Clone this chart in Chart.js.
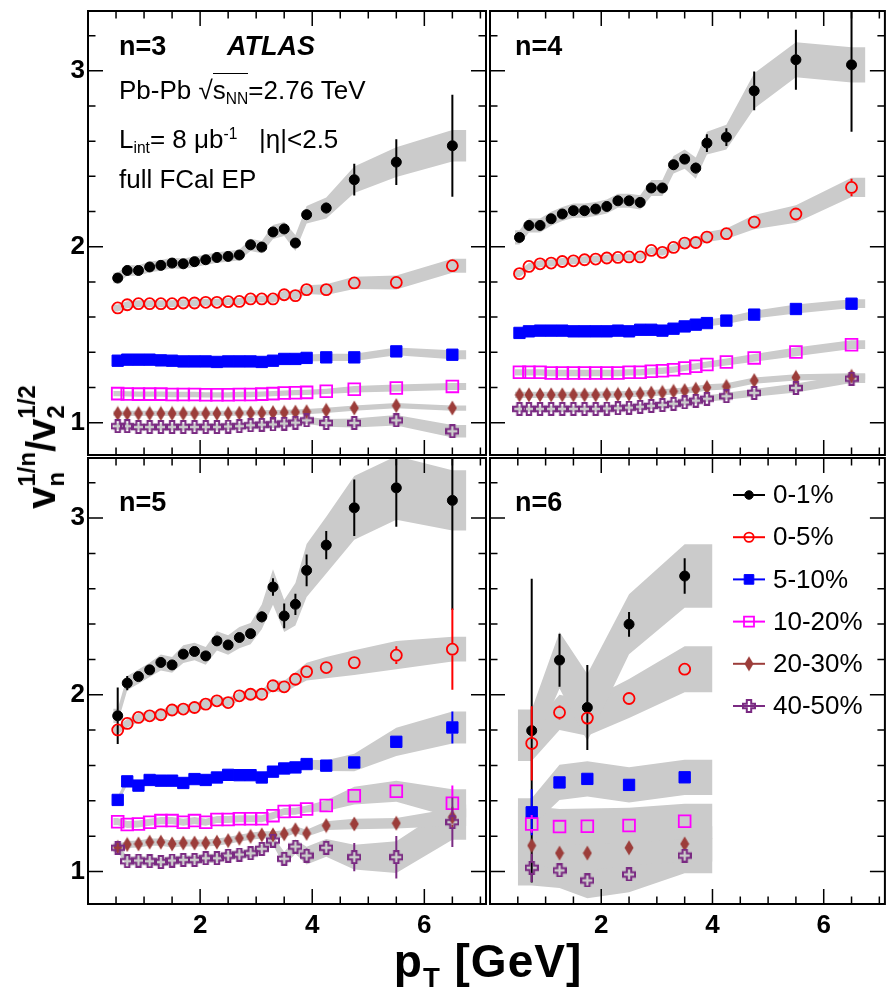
<!DOCTYPE html>
<html>
<head>
<meta charset="utf-8">
<script src="https://cdn.jsdelivr.net/npm/chart.js@4.4.1/dist/chart.umd.min.js"></script>
<style>
  html, body { margin: 0; padding: 0; background: #fff; }
  #wrap { position: relative; width: 895px; height: 994px; overflow: hidden;
          font-family: 'Liberation Sans', Arial, Helvetica, sans-serif; color: #000; }
  #wrap canvas { position: absolute; left: 0; top: 0; }
  .txt { position: absolute; white-space: nowrap; line-height: 1; font-size: 26px; }
  .b { font-weight: bold; font-size: 27px; }
  .txt sub { font-size: 0.6em; vertical-align: -0.3em; line-height: 0; }
  .txt sup { font-size: 0.6em; vertical-align: 0.6em; line-height: 0; }
  .ovl { border-top: 1.5px solid #000; padding-top: 1px; }
  #ytitle { position: absolute; left: 41px; top: 447px; transform: translate(-50%, -50%) rotate(-90deg);
            font-weight: bold; font-size: 40px; line-height: 40px; white-space: nowrap; }
  #ytitle .st { display: inline-flex; flex-direction: column; font-size: 24px; line-height: 29px; vertical-align: 20px; }
  #xtitle { position: absolute; left: 488px; top: 938px; transform: translateX(-50%);
            font-weight: bold; font-size: 46px; letter-spacing: 1px; line-height: 1; white-space: nowrap; }
  #xtitle sub { font-size: 0.6em; vertical-align: -0.35em; line-height: 0; }
</style>
</head>
<body>
<div id="wrap">
  <canvas id="c3" width="895" height="994"></canvas>
  <canvas id="c4" width="895" height="994"></canvas>
  <canvas id="c5" width="895" height="994"></canvas>
  <canvas id="c6" width="895" height="994"></canvas>

  <div class="txt b" style="left:119px;top:33px">n=3</div>
  <div class="txt b" style="left:227px;top:33px;font-style:italic">ATLAS</div>
  <div class="txt" style="left:119px;top:77px">Pb-Pb √<span class="ovl">s<sub>NN</sub></span>=2.76 TeV</div>
  <div class="txt" style="left:119px;top:126px">L<sub>int</sub>= 8 μb<sup>-1</sup>&nbsp;&nbsp;&nbsp;|η|&lt;2.5</div>
  <div class="txt" style="left:119px;top:166px">full FCal EP</div>
  <div class="txt b" style="left:515px;top:33px">n=4</div>
  <div class="txt b" style="left:119px;top:489px">n=5</div>
  <div class="txt b" style="left:515px;top:489px">n=6</div>

  <div id="ytitle">v<span class="st"><span>1/n</span><span>n</span></span>/v<span class="st"><span>1/2</span><span>2</span></span></div>
  <div id="xtitle">p<sub>T</sub> [GeV]</div>
</div>

<script>
// ---- data ----
const centralities = ['0-1%', '0-5%', '5-10%', '10-20%', '20-30%', '40-50%'];
const ptFine = [0.53, 0.7, 0.9, 1.1, 1.3, 1.5, 1.7, 1.9, 2.1, 2.3, 2.5, 2.7, 2.9, 3.1, 3.3, 3.5, 3.7, 3.9, 4.25, 4.75, 5.5, 6.5];
const ptCoarse = [0.75, 1.25, 1.75, 2.5, 3.5];
const bandEdgesFine = [0.45, 6.75];
const bandEdgesCoarse = [0.5, 4.0];
const xTickLabels = [2, 4, 6];
const yTickLabels = [1, 2, 3];

// n=3
const v3 = [
  [1.822, 1.865, 1.865, 1.885, 1.894, 1.907, 1.903, 1.915, 1.926, 1.939, 1.945, 1.953, 2.011, 1.998, 2.084, 2.101, 2.021, 2.182, 2.220, 2.381, 2.481, 2.574],
  [1.652, 1.670, 1.676, 1.676, 1.676, 1.676, 1.680, 1.680, 1.684, 1.684, 1.688, 1.689, 1.703, 1.703, 1.703, 1.727, 1.722, 1.756, 1.756, 1.794, 1.797, 1.892],
  [1.352, 1.358, 1.358, 1.358, 1.354, 1.352, 1.348, 1.348, 1.348, 1.345, 1.348, 1.348, 1.348, 1.345, 1.352, 1.362, 1.362, 1.368, 1.371, 1.371, 1.405, 1.386],
  [1.165, 1.163, 1.162, 1.162, 1.162, 1.160, 1.160, 1.160, 1.158, 1.158, 1.158, 1.160, 1.160, 1.162, 1.165, 1.168, 1.170, 1.172, 1.178, 1.190, 1.197, 1.206],
  [1.052, 1.052, 1.052, 1.052, 1.052, 1.052, 1.052, 1.052, 1.052, 1.052, 1.052, 1.054, 1.055, 1.056, 1.057, 1.058, 1.060, 1.062, 1.070, 1.083, 1.097, 1.083],
  [0.980, 0.980, 0.975, 0.975, 0.975, 0.975, 0.975, 0.975, 0.975, 0.975, 0.978, 0.980, 0.985, 0.988, 0.990, 0.995, 1.000, 1.013, 0.998, 0.998, 1.013, 0.951]
];
const stat3 = [
  [0.01, 0.01, 0.01, 0.01, 0.01, 0.01, 0.01, 0.01, 0.01, 0.01, 0.01, 0.01, 0.015, 0.015, 0.02, 0.02, 0.02, 0.03, 0.03, 0.09, 0.13, 0.29],
  [0.005, 0.005, 0.005, 0.005, 0.005, 0.005, 0.005, 0.005, 0.005, 0.005, 0.005, 0.005, 0.005, 0.005, 0.005, 0.005, 0.005, 0.005, 0.01, 0.015, 0.02, 0.03],
  [0.005, 0.005, 0.005, 0.005, 0.005, 0.005, 0.005, 0.005, 0.005, 0.005, 0.005, 0.005, 0.005, 0.005, 0.005, 0.005, 0.005, 0.005, 0.005, 0.005, 0.01, 0.01],
  [0.005, 0.005, 0.005, 0.005, 0.005, 0.005, 0.005, 0.005, 0.005, 0.005, 0.005, 0.005, 0.005, 0.005, 0.005, 0.005, 0.005, 0.005, 0.005, 0.005, 0.01, 0.01],
  [0.005, 0.005, 0.005, 0.005, 0.005, 0.005, 0.005, 0.005, 0.005, 0.005, 0.005, 0.005, 0.005, 0.005, 0.005, 0.005, 0.005, 0.005, 0.005, 0.01, 0.01, 0.015],
  [0.005, 0.005, 0.005, 0.005, 0.005, 0.005, 0.005, 0.005, 0.005, 0.005, 0.005, 0.005, 0.005, 0.005, 0.005, 0.005, 0.005, 0.005, 0.005, 0.01, 0.015, 0.02]
];
const sys3 = [
  [0.03, 0.03, 0.03, 0.03, 0.03, 0.03, 0.03, 0.03, 0.03, 0.03, 0.03, 0.03, 0.035, 0.035, 0.04, 0.04, 0.045, 0.05, 0.06, 0.075, 0.085, 0.09],
  [0.02, 0.02, 0.02, 0.02, 0.02, 0.02, 0.02, 0.02, 0.02, 0.02, 0.02, 0.02, 0.02, 0.02, 0.022, 0.022, 0.025, 0.025, 0.03, 0.035, 0.04, 0.04],
  [0.02, 0.02, 0.02, 0.02, 0.02, 0.02, 0.02, 0.02, 0.02, 0.02, 0.02, 0.02, 0.02, 0.02, 0.02, 0.02, 0.02, 0.02, 0.02, 0.02, 0.022, 0.025],
  [0.015, 0.015, 0.015, 0.015, 0.015, 0.015, 0.015, 0.015, 0.015, 0.015, 0.015, 0.015, 0.015, 0.015, 0.015, 0.015, 0.015, 0.015, 0.015, 0.018, 0.02, 0.02],
  [0.015, 0.015, 0.015, 0.015, 0.015, 0.015, 0.015, 0.015, 0.015, 0.015, 0.015, 0.015, 0.015, 0.015, 0.015, 0.015, 0.015, 0.015, 0.015, 0.015, 0.015, 0.015],
  [0.02, 0.02, 0.02, 0.02, 0.02, 0.02, 0.02, 0.02, 0.02, 0.02, 0.02, 0.02, 0.02, 0.02, 0.02, 0.02, 0.02, 0.02, 0.022, 0.025, 0.03, 0.035]
];

// n=4
const v4 = [
  [2.053, 2.121, 2.121, 2.159, 2.186, 2.205, 2.205, 2.214, 2.229, 2.261, 2.261, 2.252, 2.334, 2.334, 2.466, 2.498, 2.447, 2.589, 2.623, 2.886, 3.063, 3.034],
  [1.847, 1.888, 1.903, 1.907, 1.916, 1.920, 1.926, 1.930, 1.936, 1.939, 1.942, 1.942, 1.979, 1.968, 1.996, 2.021, 2.024, 2.055, 2.074, 2.140, 2.186, 2.337],
  [1.510, 1.519, 1.523, 1.523, 1.523, 1.519, 1.519, 1.519, 1.519, 1.523, 1.519, 1.528, 1.528, 1.523, 1.534, 1.547, 1.557, 1.566, 1.580, 1.614, 1.646, 1.676],
  [1.286, 1.286, 1.286, 1.282, 1.282, 1.282, 1.282, 1.282, 1.282, 1.282, 1.286, 1.286, 1.292, 1.295, 1.301, 1.311, 1.320, 1.330, 1.345, 1.368, 1.402, 1.443],
  [1.158, 1.158, 1.158, 1.158, 1.158, 1.158, 1.158, 1.158, 1.160, 1.160, 1.162, 1.165, 1.168, 1.172, 1.178, 1.182, 1.190, 1.200, 1.206, 1.239, 1.257, 1.263],
  [1.078, 1.078, 1.078, 1.078, 1.078, 1.078, 1.078, 1.078, 1.080, 1.082, 1.085, 1.090, 1.095, 1.100, 1.107, 1.115, 1.125, 1.136, 1.150, 1.169, 1.197, 1.250]
];
const stat4 = [
  [0.01, 0.01, 0.01, 0.01, 0.01, 0.01, 0.01, 0.01, 0.01, 0.01, 0.01, 0.01, 0.015, 0.015, 0.02, 0.02, 0.03, 0.05, 0.05, 0.11, 0.17, 0.38],
  [0.005, 0.005, 0.005, 0.005, 0.005, 0.005, 0.005, 0.005, 0.005, 0.005, 0.005, 0.005, 0.005, 0.005, 0.005, 0.005, 0.005, 0.005, 0.01, 0.015, 0.02, 0.05],
  [0.005, 0.005, 0.005, 0.005, 0.005, 0.005, 0.005, 0.005, 0.005, 0.005, 0.005, 0.005, 0.005, 0.005, 0.005, 0.005, 0.005, 0.005, 0.005, 0.005, 0.01, 0.01],
  [0.005, 0.005, 0.005, 0.005, 0.005, 0.005, 0.005, 0.005, 0.005, 0.005, 0.005, 0.005, 0.005, 0.005, 0.005, 0.005, 0.005, 0.005, 0.005, 0.005, 0.01, 0.01],
  [0.005, 0.005, 0.005, 0.005, 0.005, 0.005, 0.005, 0.005, 0.005, 0.005, 0.005, 0.005, 0.005, 0.005, 0.005, 0.005, 0.005, 0.005, 0.005, 0.01, 0.015, 0.02],
  [0.005, 0.005, 0.005, 0.005, 0.005, 0.005, 0.005, 0.005, 0.005, 0.005, 0.005, 0.005, 0.005, 0.005, 0.005, 0.005, 0.005, 0.005, 0.005, 0.01, 0.015, 0.02]
];
const sys4 = [
  [0.04, 0.04, 0.04, 0.04, 0.04, 0.04, 0.04, 0.04, 0.04, 0.04, 0.04, 0.04, 0.045, 0.045, 0.05, 0.055, 0.06, 0.065, 0.07, 0.1, 0.1, 0.1],
  [0.02, 0.02, 0.02, 0.02, 0.02, 0.02, 0.02, 0.02, 0.02, 0.02, 0.02, 0.02, 0.02, 0.02, 0.022, 0.025, 0.025, 0.028, 0.03, 0.04, 0.05, 0.055],
  [0.02, 0.02, 0.02, 0.02, 0.02, 0.02, 0.02, 0.02, 0.02, 0.02, 0.02, 0.02, 0.02, 0.02, 0.02, 0.02, 0.02, 0.02, 0.02, 0.022, 0.025, 0.025],
  [0.018, 0.018, 0.018, 0.018, 0.018, 0.018, 0.018, 0.018, 0.018, 0.018, 0.018, 0.018, 0.018, 0.018, 0.018, 0.018, 0.018, 0.018, 0.02, 0.022, 0.025, 0.025],
  [0.018, 0.018, 0.018, 0.018, 0.018, 0.018, 0.018, 0.018, 0.018, 0.018, 0.018, 0.018, 0.018, 0.018, 0.018, 0.018, 0.018, 0.018, 0.018, 0.018, 0.018, 0.018],
  [0.018, 0.018, 0.018, 0.018, 0.018, 0.018, 0.018, 0.018, 0.018, 0.018, 0.018, 0.018, 0.018, 0.018, 0.018, 0.018, 0.018, 0.018, 0.02, 0.022, 0.025, 0.025]
];

// n=5
const v5 = [
  [1.881, 2.066, 2.103, 2.141, 2.183, 2.169, 2.230, 2.245, 2.220, 2.305, 2.282, 2.324, 2.346, 2.441, 2.610, 2.446, 2.512, 2.704, 2.847, 3.058, 3.171, 3.100],
  [1.801, 1.838, 1.872, 1.881, 1.887, 1.914, 1.919, 1.928, 1.947, 1.966, 1.956, 1.994, 2.003, 2.003, 2.051, 2.045, 2.088, 2.131, 2.154, 2.182, 2.224, 2.258],
  [1.405, 1.510, 1.486, 1.518, 1.514, 1.514, 1.501, 1.523, 1.518, 1.532, 1.547, 1.545, 1.545, 1.532, 1.565, 1.583, 1.589, 1.608, 1.599, 1.617, 1.734, 1.815],
  [1.282, 1.266, 1.269, 1.279, 1.288, 1.288, 1.279, 1.288, 1.279, 1.294, 1.294, 1.298, 1.298, 1.298, 1.316, 1.339, 1.341, 1.354, 1.373, 1.429, 1.454, 1.386],
  [1.137, 1.153, 1.156, 1.166, 1.166, 1.156, 1.161, 1.161, 1.161, 1.166, 1.175, 1.188, 1.199, 1.207, 1.207, 1.213, 1.236, 1.216, 1.260, 1.269, 1.273, 1.307],
  [1.134, 1.058, 1.062, 1.058, 1.053, 1.062, 1.066, 1.066, 1.075, 1.075, 1.090, 1.096, 1.103, 1.128, 1.175, 1.072, 1.141, 1.090, 1.134, 1.081, 1.081, 1.279]
];
const stat5 = [
  [0.16, 0.04, 0.02, 0.02, 0.02, 0.02, 0.02, 0.02, 0.02, 0.02, 0.02, 0.02, 0.025, 0.03, 0.05, 0.07, 0.06, 0.09, 0.08, 0.16, 0.22, 0.62],
  [0.03, 0.01, 0.01, 0.01, 0.01, 0.01, 0.01, 0.01, 0.01, 0.01, 0.01, 0.01, 0.01, 0.01, 0.015, 0.015, 0.015, 0.02, 0.02, 0.03, 0.05, 0.23],
  [0.03, 0.01, 0.01, 0.01, 0.01, 0.01, 0.01, 0.01, 0.01, 0.01, 0.01, 0.01, 0.01, 0.01, 0.01, 0.01, 0.01, 0.01, 0.015, 0.02, 0.03, 0.09],
  [0.01, 0.01, 0.01, 0.01, 0.01, 0.01, 0.01, 0.01, 0.01, 0.01, 0.01, 0.01, 0.01, 0.01, 0.01, 0.01, 0.01, 0.01, 0.015, 0.02, 0.03, 0.1],
  [0.01, 0.01, 0.01, 0.01, 0.01, 0.01, 0.01, 0.01, 0.01, 0.01, 0.01, 0.01, 0.01, 0.01, 0.01, 0.01, 0.01, 0.01, 0.015, 0.02, 0.03, 0.06],
  [0.03, 0.01, 0.01, 0.01, 0.01, 0.01, 0.01, 0.01, 0.01, 0.01, 0.01, 0.01, 0.01, 0.01, 0.02, 0.03, 0.03, 0.04, 0.04, 0.08, 0.12, 0.14]
];
const sys5 = [
  [0.04, 0.04, 0.04, 0.04, 0.045, 0.045, 0.05, 0.05, 0.05, 0.055, 0.055, 0.06, 0.06, 0.07, 0.1, 0.09, 0.12, 0.15, 0.16, 0.18, 0.18, 0.17],
  [0.025, 0.025, 0.025, 0.025, 0.025, 0.025, 0.025, 0.025, 0.025, 0.025, 0.025, 0.025, 0.025, 0.025, 0.03, 0.035, 0.04, 0.05, 0.06, 0.07, 0.08, 0.07],
  [0.02, 0.02, 0.02, 0.02, 0.02, 0.02, 0.02, 0.02, 0.02, 0.02, 0.02, 0.02, 0.02, 0.02, 0.02, 0.02, 0.02, 0.025, 0.03, 0.05, 0.08, 0.09],
  [0.02, 0.02, 0.02, 0.02, 0.02, 0.02, 0.02, 0.02, 0.02, 0.02, 0.02, 0.02, 0.02, 0.02, 0.02, 0.02, 0.02, 0.02, 0.03, 0.05, 0.06, 0.08],
  [0.02, 0.02, 0.02, 0.02, 0.02, 0.02, 0.02, 0.02, 0.02, 0.02, 0.02, 0.02, 0.02, 0.02, 0.02, 0.02, 0.02, 0.02, 0.025, 0.03, 0.03, 0.05],
  [0.025, 0.025, 0.025, 0.025, 0.025, 0.025, 0.025, 0.025, 0.025, 0.025, 0.025, 0.025, 0.025, 0.025, 0.025, 0.04, 0.04, 0.05, 0.05, 0.07, 0.09, 0.1]
];

// n=6
const v6 = [
  [1.797, 2.196, 1.928, 2.399, 2.672],
  [1.725, 1.900, 1.868, 1.979, 2.145],
  [1.335, 1.504, 1.524, 1.490, 1.533],
  [1.269, 1.254, 1.256, 1.260, 1.284],
  [1.147, 1.104, 1.104, 1.134, 1.156],
  [1.021, 1.006, 0.949, 0.983, 1.090]
];
const stat6 = [
  [0.86, 0.15, 0.24, 0.07, 0.1],
  [0.21, 0.04, 0.02, 0.01, 0.01],
  [0.13, 0.01, 0.01, 0.01, 0.01],
  [0.05, 0.01, 0.01, 0.01, 0.01],
  [0.03, 0.02, 0.02, 0.02, 0.02],
  [0.08, 0.02, 0.02, 0.02, 0.02]
];
const sys6 = [
  [0.12, 0.16, 0.19, 0.17, 0.18],
  [0.1, 0.1, 0.1, 0.11, 0.13],
  [0.08, 0.1, 0.1, 0.1, 0.1],
  [0.1, 0.1, 0.1, 0.1, 0.1],
  [0.1, 0.1, 0.1, 0.1, 0.1],
  [0.1, 0.1, 0.1, 0.1, 0.1]
];

// ---- styles ----
const FONT = "'Liberation Sans', Arial, Helvetica, sans-serif";
const bandColor = '#cbcbcb';

function diamondMarker(color) {
  const c = document.createElement('canvas');
  c.width = 10; c.height = 16;
  const g = c.getContext('2d');
  g.fillStyle = color;
  g.beginPath();
  g.moveTo(5, 0.5); g.lineTo(9.5, 8); g.lineTo(5, 15.5); g.lineTo(0.5, 8);
  g.closePath();
  g.fill();
  return c;
}
function openCrossMarker(color) {
  const c = document.createElement('canvas');
  c.width = 14; c.height = 14;
  const g = c.getContext('2d');
  const m = 7, a = 2.2, L = 6;
  g.strokeStyle = color;
  g.lineWidth = 2;
  g.beginPath();
  g.moveTo(m - a, m - L); g.lineTo(m + a, m - L); g.lineTo(m + a, m - a); g.lineTo(m + L, m - a);
  g.lineTo(m + L, m + a); g.lineTo(m + a, m + a); g.lineTo(m + a, m + L); g.lineTo(m - a, m + L);
  g.lineTo(m - a, m + a); g.lineTo(m - L, m + a); g.lineTo(m - L, m - a); g.lineTo(m - a, m - a);
  g.closePath();
  g.stroke();
  return c;
}

const seriesStyle = [
  { color: '#000000', pointStyle: 'circle', radius: 5, filled: true, border: 1, half: 5 },
  { color: '#ff0000', pointStyle: 'circle', radius: 5.5, filled: false, border: 1.8, half: 6 },
  { color: '#0000ff', pointStyle: 'rect', radius: 8, filled: true, border: 1, half: 5.7 },
  { color: '#ff00ff', pointStyle: 'rect', radius: 8.3, filled: false, border: 1.8, half: 6 },
  { color: '#9c3d3a', pointStyle: diamondMarker('#9c3d3a'), radius: 7, filled: true, border: 0, half: 7.5 },
  { color: '#7a2a82', pointStyle: openCrossMarker('#7a2a82'), radius: 7, filled: false, border: 0, half: 6.5 }
];

// ---- plugins ----
const errorBars = {
  id: 'errorBars',
  beforeDatasetDraw(chart, args) {
    const ds = chart.data.datasets[args.index];
    if (!ds.errors) return;
    const { ctx, chartArea: a } = chart;
    const x = chart.scales.x, y = chart.scales.y;
    ctx.save();
    ctx.beginPath();
    ctx.rect(a.left, a.top, a.right - a.left, a.bottom - a.top);
    ctx.clip();
    ctx.strokeStyle = ds.pointBorderColor;
    ctx.lineWidth = 2;
    ds.data.forEach((p, k) => {
      const e = ds.errors[k];
      const px = x.getPixelForValue(p.x), py = y.getPixelForValue(p.y);
      const top = y.getPixelForValue(p.y + e), bot = y.getPixelForValue(p.y - e);
      ctx.beginPath();
      if (py - top > ds.markerHalf) { ctx.moveTo(px, top); ctx.lineTo(px, py - ds.markerHalf); }
      if (bot - py > ds.markerHalf) { ctx.moveTo(px, py + ds.markerHalf); ctx.lineTo(px, bot); }
      ctx.stroke();
    });
    ctx.restore();
  }
};

const frameTicks = {
  id: 'frameTicks',
  afterDraw(chart) {
    const { ctx, chartArea: a } = chart;
    const x = chart.scales.x, y = chart.scales.y;
    ctx.save();
    ctx.strokeStyle = '#000';
    ctx.lineWidth = 1.5;
    ctx.beginPath();
    for (let k = Math.ceil(x.min / 0.5); k * 0.5 <= x.max + 1e-9; k++) {
      const px = x.getPixelForValue(k * 0.5);
      const len = k % 4 === 0 ? 15 : 7.5;
      ctx.moveTo(px, a.bottom); ctx.lineTo(px, a.bottom - len);
      ctx.moveTo(px, a.top); ctx.lineTo(px, a.top + len);
    }
    for (let k = Math.ceil(y.min / 0.2 - 1e-9); k * 0.2 <= y.max + 1e-9; k++) {
      const py = y.getPixelForValue(k * 0.2);
      const len = k % 5 === 0 ? 15 : 7.5;
      ctx.moveTo(a.left, py); ctx.lineTo(a.left + len, py);
      ctx.moveTo(a.right, py); ctx.lineTo(a.right - len, py);
    }
    ctx.stroke();
    ctx.lineWidth = 2;
    ctx.strokeRect(a.left, a.top, a.right - a.left, a.bottom - a.top);
    ctx.restore();
  }
};

const panelLegend = {
  id: 'panelLegend',
  afterDraw(chart, args, opts) {
    if (!opts.show) return;
    const ctx = chart.ctx;
    const items = chart.data.datasets.filter(d => d.errors);
    items.forEach((d, i) => {
      const cx = opts.x, cy = opts.y + i * opts.step;
      ctx.save();
      ctx.strokeStyle = d.pointBorderColor;
      ctx.lineWidth = 2;
      ctx.beginPath();
      ctx.moveTo(cx - 16, cy); ctx.lineTo(cx + 16, cy);
      ctx.stroke();
      ctx.fillStyle = d.pointBackgroundColor;
      ctx.lineWidth = d.pointBorderWidth;
      Chart.helpers.drawPoint(ctx, { pointStyle: d.pointStyle, radius: d.pointRadius * 0.85, borderWidth: d.pointBorderWidth, rotation: 0 }, cx, cy);
      ctx.fillStyle = '#000';
      ctx.font = '26px ' + FONT;
      ctx.textBaseline = 'middle';
      ctx.textAlign = 'left';
      ctx.fillText(d.label, cx + 24, cy + 1);
      ctx.restore();
    });
  }
};

// ---- panels ----
const panels = [
  { id: 'c3', area: { left: 88, top: 11, right: 486, bottom: 455 }, pt: ptFine, band: bandEdgesFine, v: v3, stat: stat3, sys: sys3, xLabels: false, yLabels: true },
  { id: 'c4', area: { left: 490, top: 11, right: 885, bottom: 455 }, pt: ptFine, band: bandEdgesFine, v: v4, stat: stat4, sys: sys4, xLabels: false, yLabels: false },
  { id: 'c5', area: { left: 88, top: 458, right: 486, bottom: 904 }, pt: ptFine, band: bandEdgesFine, v: v5, stat: stat5, sys: sys5, xLabels: true, yLabels: true },
  { id: 'c6', area: { left: 490, top: 458, right: 885, bottom: 904 }, pt: ptCoarse, band: bandEdgesCoarse, v: v6, stat: stat6, sys: sys6, xLabels: true, yLabels: false, legend: true }
];

function buildDatasets(p) {
  const ds = [];
  p.v.forEach((vals, i) => {
    const s = p.sys[i];
    const last = vals.length - 1;
    const up = [{ x: p.band[0], y: vals[0] + s[0] }]
      .concat(p.pt.map((x, k) => ({ x, y: vals[k] + s[k] })))
      .concat([{ x: p.band[1], y: vals[last] + s[last] }]);
    const lo = [{ x: p.band[0], y: vals[0] - s[0] }]
      .concat(p.pt.map((x, k) => ({ x, y: vals[k] - s[k] })))
      .concat([{ x: p.band[1], y: vals[last] - s[last] }]);
    ds.push({ data: up, borderWidth: 0, borderColor: 'rgba(0,0,0,0)', pointRadius: 0, fill: false, order: 100, clip: 0 });
    ds.push({ data: lo, borderWidth: 0, borderColor: 'rgba(0,0,0,0)', pointRadius: 0, fill: '-1', backgroundColor: bandColor, order: 100, clip: 0 });
  });
  p.v.forEach((vals, i) => {
    const st = seriesStyle[i];
    ds.push({
      label: centralities[i],
      data: p.pt.map((x, k) => ({ x, y: vals[k] })),
      errors: p.stat[i],
      markerHalf: st.half,
      showLine: false,
      pointStyle: st.pointStyle,
      pointRadius: st.radius,
      pointBackgroundColor: st.filled ? st.color : 'rgba(0,0,0,0)',
      pointBorderColor: st.color,
      pointBorderWidth: st.border,
      order: 6 - i,
      clip: 0
    });
  });
  return ds;
}

const tickFont = { family: FONT, size: 26, weight: 'bold' };

panels.forEach(p => {
  const a = p.area;
  const yW = 40, xH = 40;
  new Chart(document.getElementById(p.id).getContext('2d'), {
    type: 'line',
    data: { datasets: buildDatasets(p) },
    options: {
      responsive: false,
      animation: false,
      events: [],
      layout: {
        padding: {
          left: p.yLabels ? a.left - yW : a.left,
          top: a.top,
          right: 895 - a.right,
          bottom: p.xLabels ? 994 - a.bottom - xH : 994 - a.bottom
        }
      },
      plugins: {
        legend: { display: false },
        tooltip: { enabled: false },
        panelLegend: { show: !!p.legend, x: 749, y: 495, step: 42.2 }
      },
      scales: {
        x: {
          type: 'linear', min: 0, max: 7.1,
          display: p.xLabels,
          grid: { display: false, drawTicks: false },
          border: { display: false },
          ticks: { font: tickFont, color: '#000', padding: 6, maxRotation: 0, autoSkip: false },
          afterBuildTicks: s => { s.ticks = xTickLabels.map(v => ({ value: v })); },
          afterFit: s => {
            s.height = p.xLabels ? xH : 0;
            s.paddingLeft = 0; s.paddingRight = 0;
          }
        },
        y: {
          type: 'linear', min: 0.816, max: 3.34,
          display: p.yLabels,
          grid: { display: false, drawTicks: false },
          border: { display: false },
          ticks: { font: tickFont, color: '#000', padding: 3, autoSkip: false },
          afterBuildTicks: s => { s.ticks = yTickLabels.map(v => ({ value: v })); },
          afterFit: s => {
            s.width = p.yLabels ? yW : 0;
            s.paddingTop = 0; s.paddingBottom = 0;
          }
        }
      }
    },
    plugins: [errorBars, frameTicks, panelLegend]
  });
});
</script>
</body>
</html>
